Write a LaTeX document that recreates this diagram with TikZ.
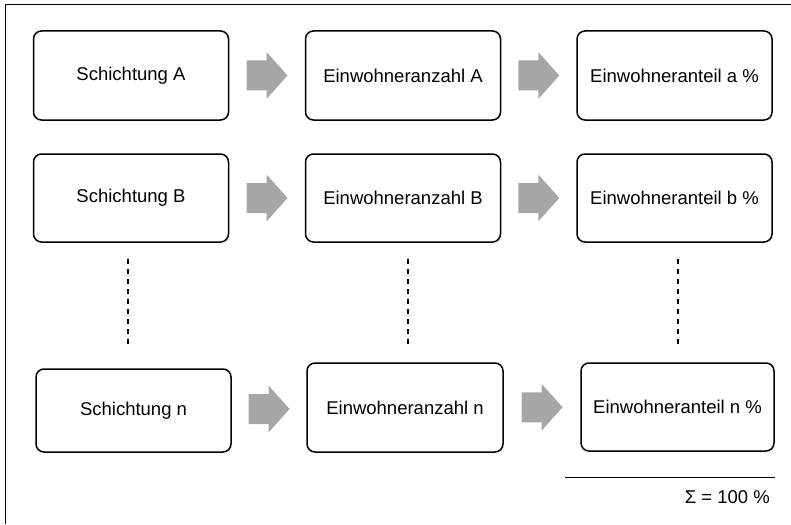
\documentclass[tikz,border=0pt]{standalone}
\usepackage{fontspec}
\setmainfont{Liberation Sans}
\usetikzlibrary{calc}
\definecolor{arrowgray}{RGB}{166,166,166}
\begin{document}
\begin{tikzpicture}[x=1pt,y=-1pt,
  box/.style={draw,line width=1.5pt,rounded corners=8pt,minimum width=195pt,
    minimum height=89pt,inner sep=0pt,font=\fontsize{18.5}{22}\selectfont},
  blockarrow/.pic={\fill[arrowgray] (-20.5,-15) -- (-0.5,-15) -- (-0.5,-23.5)
    -- (20.5,0) -- (-0.5,23.5) -- (-0.5,15) -- (-20.5,15) -- cycle;},
  vdots/.style={line width=1.2pt,dash pattern=on 5pt off 5pt}]
\useasboundingbox (0,0) rectangle (791,524);
% frame
\draw[line width=1pt] (5,524) -- (5,5) -- (791,5);
% row A
\node[box] (a1) at (131,75.5) {Schichtung A};
\node[box] (a2) at (403,75.5) {Einwohneranzahl A};
\node[box] (a3) at (674.5,75.5) {Einwohneranteil a \%};
% row B
\node[box,minimum height=88pt] (b1) at (131,198) {Schichtung B};
\node[box,minimum height=88pt] (b2) at (403,198) {Einwohneranzahl B};
\node[box,minimum height=88pt] (b3) at (674.5,198) {Einwohneranteil b \%};
% row n
\node[box,minimum height=83pt] (n1) at (133.5,410.5) {Schichtung n};
\node[box,minimum width=196pt] (n2) at (405,407.5) {Einwohneranzahl n};
\node[box,minimum width=193pt,minimum height=88pt] (n3) at (677.5,407) {Einwohneranteil n \%};
% arrows
\coordinate (pa1) at ($(a1.east)!0.5!(a2.west)$);
\coordinate (pa2) at ($(a2.east)!0.5!(a3.west)$);
\coordinate (pb1) at ($(b1.east)!0.5!(b2.west)$);
\coordinate (pb2) at ($(b2.east)!0.5!(b3.west)$);
\coordinate (pn1) at ($(n1.east)!0.5!(n2.west)$);
\coordinate (pn2) at ($(n2.east)!0.5!(n3.west)$);
\foreach \p in {pa1,pa2,pb1,pb2,pn1,pn2}
  \pic at (\p) {blockarrow};
% dashed lines
\draw[vdots,shorten <=16pt,shorten >=22pt] ([xshift=-3pt]b1.south) -- ([xshift=-3pt]b1.south |- n1.north);
\draw[vdots,shorten <=16pt,shorten >=16pt] ([xshift=5pt]b2.south) -- ([xshift=5pt]b2.south |- n2.north);
\draw[vdots,shorten <=16pt,shorten >=16pt] ([xshift=3.5pt]b3.south) -- ([xshift=3.5pt]b3.south |- n3.north);
% sum
\coordinate (sl) at (565,477);
\coordinate (sr) at (775,477);
\draw[line width=1pt] (sl) -- (sr);
\node[anchor=east,inner sep=0pt,font=\fontsize{18.5}{22}\selectfont] (sum) at (770,497) {Σ = 100 \%};
\end{tikzpicture}
\end{document}
